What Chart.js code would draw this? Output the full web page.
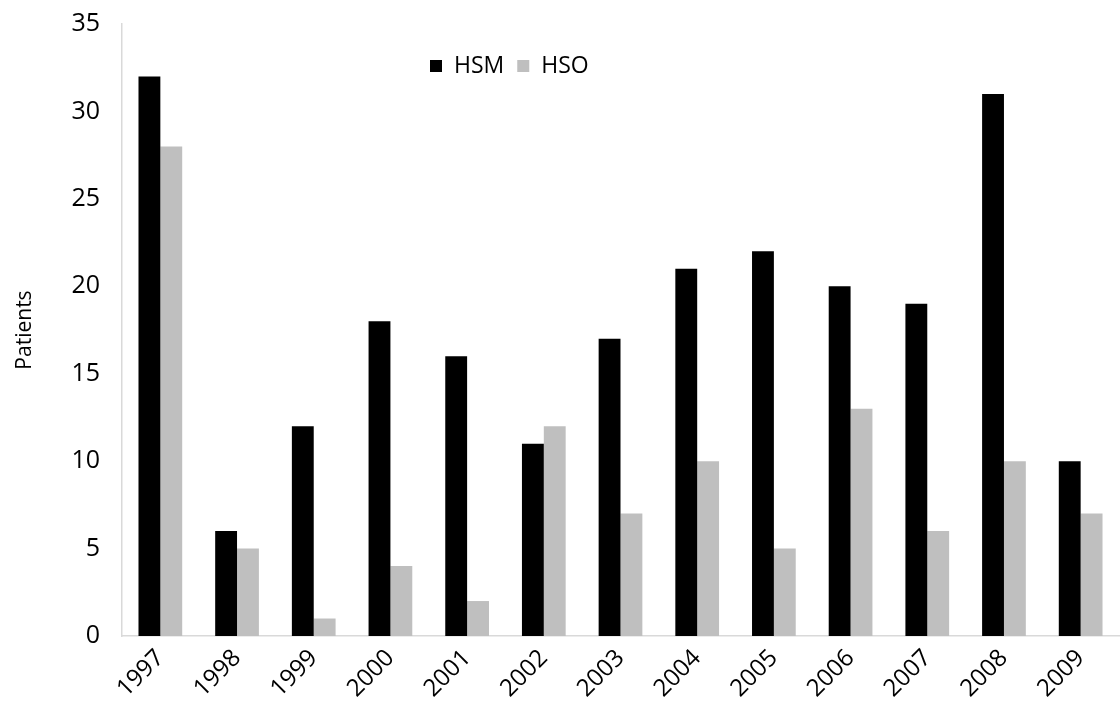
<!DOCTYPE html>
<html>
<head>
<meta charset="utf-8">
<script src="https://cdn.jsdelivr.net/npm/chart.js@4.4.0/dist/chart.umd.min.js"></script>
<style>
  html, body { margin: 0; padding: 0; background: #fff; }
  #wrap { width: 1120px; height: 720px; }
</style>
</head>
<body>
<div id="wrap"><canvas id="chart"></canvas></div>
<script>
// data
const years = ['1997','1998','1999','2000','2001','2002','2003','2004','2005','2006','2007','2008','2009'];
const hsm = [32, 6, 12, 18, 16, 11, 17, 21, 22, 20, 19, 31, 10];
const hso = [28, 5, 1, 4, 2, 12, 7, 10, 5, 13, 6, 10, 7];
const yTicks = [0, 5, 10, 15, 20, 25, 30, 35];

const fontFamily = "'Open Sans', 'Liberation Sans', sans-serif";

// small legend drawn inside the plot, like the original
const insideLegend = {
  id: 'insideLegend',
  afterDraw(chart) {
    const ctx = chart.ctx;
    ctx.save();
    ctx.font = '23px ' + fontFamily;
    ctx.textBaseline = 'middle';
    let x = 430;
    const y = 66;
    chart.data.datasets.forEach(function(ds) {
      ctx.fillStyle = ds.backgroundColor;
      ctx.fillRect(x, y - 6, 12, 12);
      x += 24;
      ctx.fillStyle = '#000';
      ctx.fillText(ds.label, x, y);
      x += ctx.measureText(ds.label).width + 13;
    });
    ctx.restore();
  }
};

new Chart(document.getElementById('chart'), {
  type: 'bar',
  data: {
    labels: years,
    datasets: [
      { label: 'HSM', data: hsm, backgroundColor: '#000000' },
      { label: 'HSO', data: hso, backgroundColor: '#bfbfbf' }
    ]
  },
  options: {
    responsive: true,
    maintainAspectRatio: false,
    animation: false,
    layout: { padding: { top: 24, right: 1, left: 8, bottom: 0 } },
    datasets: { bar: { categoryPercentage: 0.57, barPercentage: 1.0 } },
    plugins: {
      legend: { display: false },
      tooltip: { enabled: false }
    },
    scales: {
      x: {
        grid: { display: false, drawTicks: false },
        border: { color: '#d9d9d9', width: 1.5 },
        ticks: {
          color: '#000',
          font: { size: 24, family: fontFamily },
          maxRotation: 45,
          minRotation: 45,
          padding: 8
        },
        afterFit(scale) { scale.height = 84; }
      },
      y: {
        min: 0,
        max: 35,
        afterBuildTicks(scale) {
          scale.ticks = yTicks.map(function(v) { return { value: v }; });
        },
        grid: { display: false, drawTicks: false },
        border: { color: '#d9d9d9', width: 1.5 },
        ticks: {
          color: '#000',
          font: { size: 25, family: fontFamily },
          padding: 22
        },
        title: {
          display: true,
          text: 'Patients',
          color: '#000',
          font: { size: 21, family: fontFamily },
          padding: { top: 4, bottom: 10 }
        },
        afterFit(scale) {
          scale.width = 114;
          scale.paddingTop = 0;
          scale.paddingBottom = 0;
        }
      }
    }
  },
  plugins: [insideLegend]
});
</script>
</body>
</html>
